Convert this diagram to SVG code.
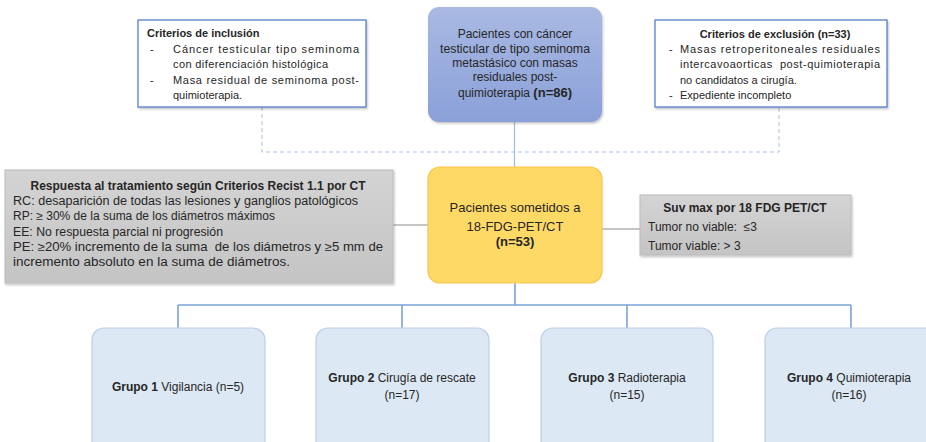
<svg xmlns="http://www.w3.org/2000/svg" width="926" height="442" viewBox="0 0 926 442">
<defs>
<linearGradient id="gBlue" x1="0" y1="0" x2="0" y2="1"><stop offset="0" stop-color="#a9b9e3"/><stop offset="1" stop-color="#8aa0d8"/></linearGradient>
<linearGradient id="gGray" x1="0" y1="0" x2="0" y2="1"><stop offset="0" stop-color="#d4d4d4"/><stop offset="1" stop-color="#c4c4c4"/></linearGradient>
<filter id="sh" x="-5%" y="-5%" width="115%" height="120%"><feDropShadow dx="1" dy="1.5" stdDeviation="1.2" flood-color="#000" flood-opacity="0.25"/></filter>
</defs>
<style>
text{font-family:"Liberation Sans",Arial,sans-serif;fill:#262626;white-space:pre;}
.b{font-weight:bold;}
.s11{font-size:11px;}
.s12{font-size:12px;}
.s13{font-size:13px;}
.crit{fill:#fff;stroke:#4a76c6;stroke-width:1.2;}
.gray{fill:url(#gGray);stroke:#bcbcbc;stroke-width:1;}
.grp{fill:#dde8f5;stroke:#bccde6;stroke-width:1.2;}
.dash{fill:none;stroke:#a9c0e3;stroke-width:1;stroke-dasharray:4 3;}
.lb{fill:none;stroke:#9dbde6;stroke-width:1.2;}
.ld{fill:none;stroke:#7aa3d6;stroke-width:1.6;}
.lg{fill:none;stroke:#8c8c8c;stroke-width:1.2;}
</style>
<g id="connectors">
<path class="dash" d="M262 107 V152 H779 V107"/>
<path class="lb" d="M514.5 122 V167"/>
<path class="ld" d="M515 283 V305 M178 305 H851 M178 305 V328 M402 305 V328 M627 305 V328 M851 305 V328"/>
<path class="lg" d="M393 225 H428 M602 229 H640"/>
</g>
<g id="inclusion">
<rect class="crit" x="138" y="20" width="228" height="87" filter="url(#sh)"/>
<text class="s11 b" x="147" y="37">Criterios de inclusión</text>
<text class="s11" x="150" y="53">-</text>
<text class="s11" x="173" y="53" textLength="186" lengthAdjust="spacing">Cáncer testicular tipo seminoma</text>
<text class="s11" x="173" y="68" textLength="155" lengthAdjust="spacing">con diferenciación histológica</text>
<text class="s11" x="150" y="84">-</text>
<text class="s11" x="173" y="84" textLength="186" lengthAdjust="spacing">Masa residual de seminoma post-</text>
<text class="s11" x="173" y="99">quimioterapia.</text>
</g>
<g id="patients86">
<rect x="428" y="7" width="174" height="115" rx="11" fill="url(#gBlue)" filter="url(#sh)"/>
<text class="s12" text-anchor="middle" x="515" y="38">Pacientes con cáncer</text>
<text class="s12" text-anchor="middle" x="515" y="53" textLength="150" lengthAdjust="spacingAndGlyphs">testicular de tipo seminoma</text>
<text class="s12" text-anchor="middle" x="515" y="67">metastásico con masas</text>
<text class="s12" text-anchor="middle" x="515" y="81">residuales post-</text>
<text class="s12" text-anchor="middle" x="515" y="97">quimioterapia <tspan class="b" font-size="13px">(n=86)</tspan></text>
</g>
<g id="exclusion">
<rect class="crit" x="655" y="20" width="232" height="87" filter="url(#sh)"/>
<text class="s11 b" text-anchor="middle" x="775" y="38">Criterios de exclusión (n=33)</text>
<text class="s11" x="669" y="53">-</text>
<text class="s11" x="680" y="53" textLength="200" lengthAdjust="spacing">Masas retroperitoneales residuales</text>
<text class="s11" x="680" y="68" textLength="200" lengthAdjust="spacing">intercavoaorticas  post-quimioterapia</text>
<text class="s11" x="680" y="84">no candidatos a cirugía.</text>
<text class="s11" x="669" y="99">-</text>
<text class="s11" x="680" y="99">Expediente incompleto</text>
</g>
<g id="recist">
<rect class="gray" x="5" y="170" width="388" height="113" filter="url(#sh)"/>
<text class="s12 b" text-anchor="middle" x="198" y="190" textLength="335" lengthAdjust="spacingAndGlyphs">Respuesta al tratamiento según Criterios Recist 1.1 por CT</text>
<text class="s12" x="13" y="205" textLength="345" lengthAdjust="spacingAndGlyphs">RC: desaparición de todas las lesiones y ganglios patológicos</text>
<text class="s12" x="13" y="220" textLength="262" lengthAdjust="spacingAndGlyphs">RP: ≥ 30% de la suma de los diámetros máximos</text>
<text class="s12" x="13" y="236" textLength="210" lengthAdjust="spacingAndGlyphs">EE: No respuesta parcial ni progresión</text>
<text class="s12" x="13" y="251" textLength="370" lengthAdjust="spacingAndGlyphs">PE: ≥20% incremento de la suma  de los diámetros y ≥5 mm de</text>
<text class="s12" x="13" y="266" textLength="277" lengthAdjust="spacingAndGlyphs">incremento absoluto en la suma de diámetros.</text>
</g>
<g id="pet53">
<rect x="428" y="167" width="174" height="116" rx="12" fill="#ffd966" stroke="#f7c54a" stroke-width="1.2"/>
<text class="s13" text-anchor="middle" x="515" y="212">Pacientes sometidos a</text>
<text class="s13" text-anchor="middle" x="515" y="231">18-FDG-PET/CT</text>
<text class="s13 b" text-anchor="middle" x="515" y="246">(n=53)</text>
</g>
<g id="suvmax">
<rect class="gray" x="640" y="195" width="211" height="60" filter="url(#sh)"/>
<text class="s12 b" text-anchor="middle" x="745" y="212">Suv max por 18 FDG PET/CT</text>
<text class="s12" x="648" y="231">Tumor no viable:  ≤3</text>
<text class="s12" x="648" y="250">Tumor viable: &gt; 3</text>
</g>
<g id="grupo1">
<rect class="grp" x="92" y="328" width="173" height="130" rx="12"/>
<text class="s12" text-anchor="middle" x="178" y="391"><tspan class="b">Grupo 1</tspan> Vigilancia (n=5)</text>
</g>
<g id="grupo2">
<rect class="grp" x="316" y="328" width="173" height="130" rx="12"/>
<text class="s12" text-anchor="middle" x="402" y="382"><tspan class="b">Grupo 2</tspan> Cirugía de rescate</text>
<text class="s12" text-anchor="middle" x="402" y="399">(n=17)</text>
</g>
<g id="grupo3">
<rect class="grp" x="541" y="328" width="172" height="130" rx="12"/>
<text class="s12" text-anchor="middle" x="627" y="382"><tspan class="b">Grupo 3</tspan> Radioterapia</text>
<text class="s12" text-anchor="middle" x="627" y="399">(n=15)</text>
</g>
<g id="grupo4">
<rect class="grp" x="765" y="328" width="173" height="130" rx="12"/>
<text class="s12" text-anchor="middle" x="849" y="382"><tspan class="b">Grupo 4</tspan> Quimioterapia</text>
<text class="s12" text-anchor="middle" x="849" y="399">(n=16)</text>
</g>
</svg>
